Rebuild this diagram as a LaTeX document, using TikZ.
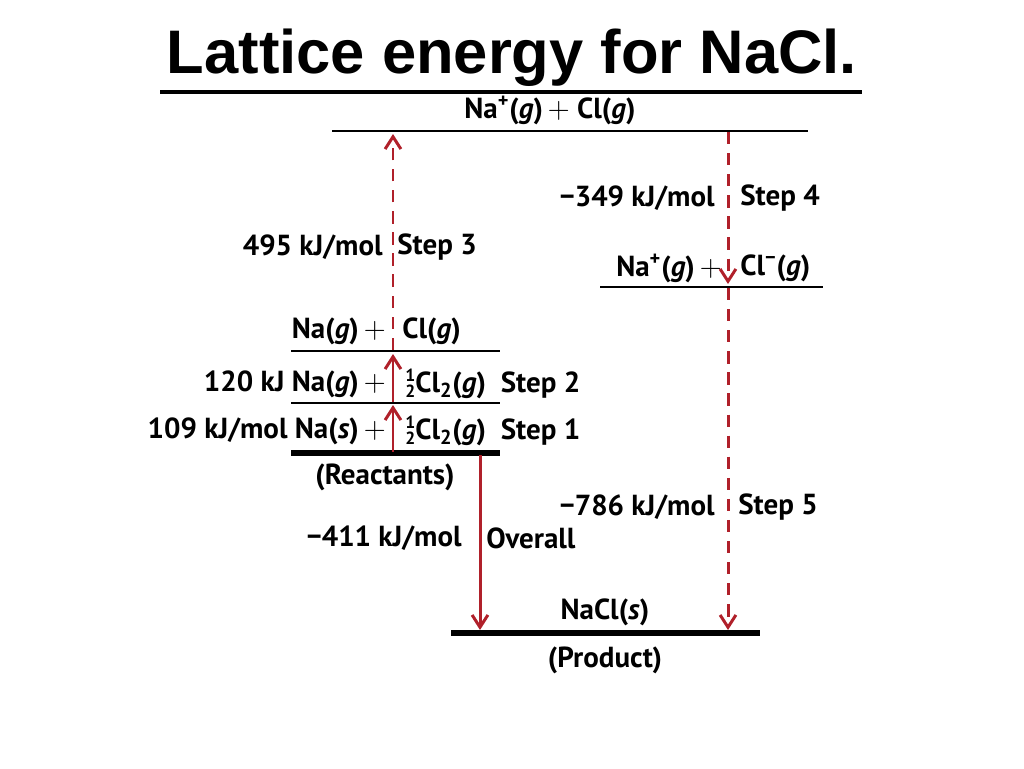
\documentclass[tikz,border=0pt]{standalone}
\usepackage{fontspec}
\setmainfont{PT Sans}
\newfontfamily\titlefont{Liberation Sans}
\usetikzlibrary{arrows.meta}
\definecolor{arr}{HTML}{B0202A}
\newcommand{\hf}{\raisebox{-0.35ex}{\shortstack{\fontsize{10}{8}\selectfont 1\\[-1pt]\fontsize{10}{8}\selectfont 2}}}
\newcommand{\pl}{\,$+$}
\newcommand{\supx}[1]{\textsuperscript{#1}}
\begin{document}
\begin{tikzpicture}[x=0.02cm,y=-0.02cm,
  lbl/.style={font=\fontsize{16.5}{18}\selectfont\bfseries,inner sep=0pt},
  lvl/.style={line width=0.8pt},
  lvlthick/.style={line width=3pt},
  up/.style={arr,line width=1.7pt,-{Straight Barb[length=7pt,width=9pt]}},
  dup/.style={up,dash pattern=on 7pt off 5pt}]
\useasboundingbox (0,0) rectangle (1024,768);
\node[font=\titlefont\fontsize{35}{40}\selectfont\bfseries,inner sep=0pt] (title) at (512,58) {Lattice energy for NaCl.};
\coordinate (u1) at (160,92); \coordinate (u2) at (862,92);
\draw[line width=2pt] (u1) -- (u2);
% levels
\coordinate (t1) at (332,131); \coordinate (t2) at (808,131);
\draw[lvl] (t1) -- (t2);
\coordinate (m1) at (600,287); \coordinate (m2) at (823,287);
\draw[lvl] (m1) -- (m2);
\coordinate (a1) at (291,351); \coordinate (a2) at (500,351);
\draw[lvl] (a1) -- (a2);
\coordinate (b1) at (291,403); \coordinate (b2) at (500,403);
\draw[lvl] (b1) -- (b2);
\coordinate (r1) at (291,453); \coordinate (r2) at (500,453);
\draw[lvlthick] (r1) -- (r2);
\coordinate (p1) at (451,633); \coordinate (p2) at (760,633);
\draw[lvlthick] (p1) -- (p2);
% arrows
\coordinate (s1a) at (393,452); \coordinate (s1b) at (393,405);
\coordinate (s2a) at (393,402); \coordinate (s2b) at (393,354);
\coordinate (s3a) at (393,350); \coordinate (s3b) at (393,134);
\coordinate (s4a) at (728,132); \coordinate (s4b) at (728,284);
\coordinate (s5a) at (728,288); \coordinate (s5b) at (728,630);
\coordinate (oa) at (480,455); \coordinate (ob) at (480,630);
\draw[up] (s1a) -- (s1b);
\draw[up] (s2a) -- (s2b);
\draw[dup] (s3a) -- (s3b);
\draw[dup] (s4a) -- (s4b);
\draw[dup] (s5a) -- (s5b);
\draw[up] (oa) -- (ob);
% labels
\node[lbl] (top) at (550,110) {Na\supx{+}(\textit{g})\pl\ Cl(\textit{g})};
\node[lbl,anchor=east] (e4) at (715,198) {−349 kJ/mol};
\node[lbl,anchor=west] (st4) at (740,198) {Step 4};
\node[lbl,anchor=east] (e3) at (383,247) {495 kJ/mol};
\node[lbl,anchor=west] (st3) at (397,247) {Step 3};
\node[lbl,anchor=east] (n4) at (722,268) {Na\supx{+}(\textit{g})\pl};
\node[lbl,anchor=west] (c4) at (740,268) {Cl\supx{−}(\textit{g})};
\node[lbl,anchor=east] (n3) at (386,331) {Na(\textit{g})\pl};
\node[lbl,anchor=west] (c3) at (402,331) {Cl(\textit{g})};
\node[lbl,anchor=east] (n2) at (386,384) {120 kJ\ Na(\textit{g})\pl};
\node[lbl,anchor=west] (c2) at (405,384) {\hf Cl\textsubscript{2}(\textit{g})\ \ Step 2};
\node[lbl,anchor=east] (n1) at (386,431) {109 kJ/mol\ Na(\textit{s})\pl};
\node[lbl,anchor=west] (c1) at (405,431) {\hf Cl\textsubscript{2}(\textit{g})\ \ Step 1};
\node[lbl] (react) at (385,477) {(Reactants)};
\node[lbl,anchor=east] (e5) at (715,507) {−786 kJ/mol};
\node[lbl,anchor=west] (st5) at (738,507) {Step 5};
\node[lbl,anchor=east] (eo) at (462,538) {−411 kJ/mol};
\node[lbl,anchor=west] (so) at (486,538) {Overall};
\node[lbl] (nacl) at (605,612) {NaCl(\textit{s})};
\node[lbl] (prod) at (605,660) {(Product)};
\end{tikzpicture}
\end{document}
